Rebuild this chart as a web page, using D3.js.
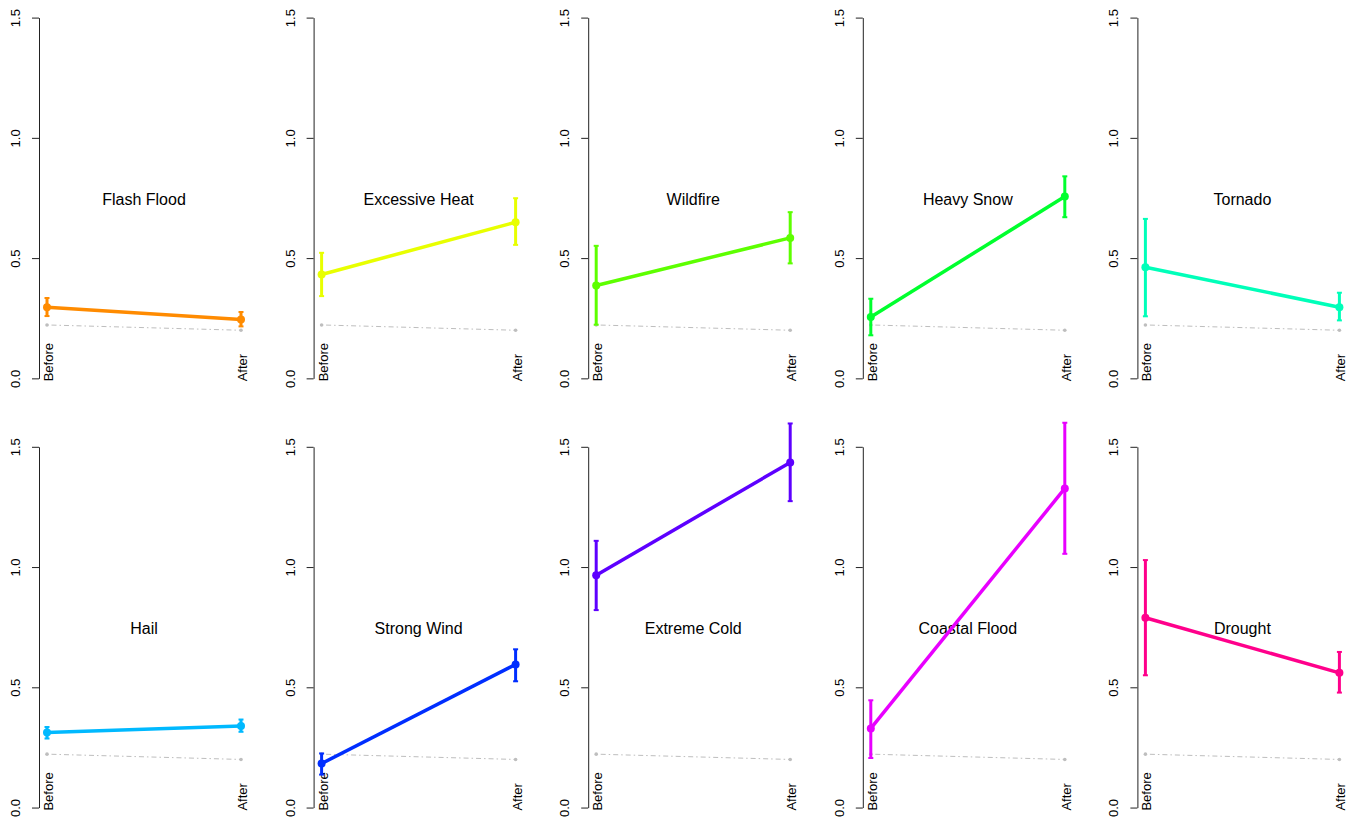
<!DOCTYPE html>
<html>
<head>
<meta charset="utf-8">
<script src="https://cdn.jsdelivr.net/npm/d3@7"></script>
<style>
  html, body { margin: 0; padding: 0; background: #fff; }
  svg { display: block; }
  text { font-family: "Liberation Sans", Arial, sans-serif; fill: #000; }
</style>
</head>
<body>
<svg id="chart" width="1357" height="818"></svg>
<script>
// ---- data ----
const hazards = ["Flash Flood", "Excessive Heat", "Wildfire", "Heavy Snow", "Tornado",
                 "Hail", "Strong Wind", "Extreme Cold", "Coastal Flood", "Drought"];
const periods = ["Before", "After"];
const beforeMean = [0.296, 0.432, 0.386, 0.255, 0.462, 0.312, 0.183, 0.966, 0.329, 0.789];
const beforeLow  = [0.259, 0.342, 0.223, 0.179, 0.258, 0.287, 0.137, 0.821, 0.206, 0.550];
const beforeHigh = [0.334, 0.522, 0.551, 0.331, 0.663, 0.335, 0.225, 1.109, 0.446, 1.029];
const afterMean  = [0.245, 0.649, 0.584, 0.756, 0.296, 0.339, 0.595, 1.435, 1.327, 0.560];
const afterLow   = [0.216, 0.555, 0.478, 0.670, 0.241, 0.315, 0.525, 1.274, 1.055, 0.478];
const afterHigh  = [0.276, 0.749, 0.691, 0.840, 0.356, 0.366, 0.658, 1.597, 1.600, 0.647];
const baseline   = [0.222, 0.200];
const colors = ["#FF8B00", "#E8FF00", "#5DFF00", "#00FF2E", "#00FFB9",
                "#00B9FF", "#002EFF", "#5D00FF", "#E800FF", "#FF008B"];
const yTicks = [0, 0.5, 1.0, 1.5];
const titleY = 0.72;

// ---- layout ----
const svg = d3.select("#chart");
const colStart = 39, colStep = 274.6;
const rowStart = 17.6, rowStep = 429.2;
const plotH = 360.75;
const plotW = 209.5;

const y = d3.scaleLinear().domain([0, 1.5]).range([plotH, 0]);
const x = d3.scalePoint().domain(periods).range([8, 202]);

hazards.forEach((name, i) => {
  const col = i % 5, row = Math.floor(i / 5);
  const g = svg.append("g")
    .attr("transform", `translate(${colStart + col * colStep},${rowStart + row * rowStep})`);

  // y axis
  const ax = g.append("g")
    .call(d3.axisLeft(y).tickValues(yTicks).tickFormat(d3.format(".1f"))
      .tickSize(7).tickSizeOuter(0));
  ax.select(".domain").attr("stroke", "#222").attr("stroke-width", 1);
  ax.selectAll(".tick line").attr("stroke", "#222");
  ax.selectAll(".tick text")
    .attr("x", null).attr("dy", null)
    .attr("transform", "translate(-19,0) rotate(-90)")
    .attr("text-anchor", "middle")
    .attr("font-size", "13px")
    .attr("font-family", "Liberation Sans, Arial, sans-serif")
    .attr("fill", "#000");

  // x labels
  g.selectAll(".xlab").data(periods).enter().append("text")
    .attr("class", "xlab")
    .attr("transform", d => `translate(${x(d) + 6},${y(0) + 3}) rotate(-90)`)
    .attr("text-anchor", "start")
    .attr("font-size", "13px")
    .text(d => d);

  // baseline gray dot-dash
  const base = periods.map((p, k) => ({p, v: baseline[k]}));
  g.append("path")
    .datum(base)
    .attr("fill", "none")
    .attr("stroke", "#BEBEBE")
    .attr("stroke-width", 1)
    .attr("stroke-dasharray", "1.5 3 5 3")
    .attr("d", d3.line().x(d => x(d.p)).y(d => y(d.v)));
  g.selectAll(".bdot").data(base).enter().append("circle")
    .attr("cx", d => x(d.p)).attr("cy", d => y(d.v)).attr("r", 1.8)
    .attr("fill", "#BEBEBE");

  // title
  g.append("text")
    .attr("x", (x("Before") + x("After")) / 2)
    .attr("y", y(titleY))
    .attr("text-anchor", "middle")
    .attr("font-size", "16px")
    .text(name);

  const pts = [
    {p: "Before", m: beforeMean[i], lo: beforeLow[i], hi: beforeHigh[i]},
    {p: "After",  m: afterMean[i],  lo: afterLow[i],  hi: afterHigh[i]}
  ];
  const c = colors[i];

  // connecting line
  g.append("path")
    .datum(pts)
    .attr("fill", "none")
    .attr("stroke", c)
    .attr("stroke-width", 3.5)
    .attr("d", d3.line().x(d => x(d.p)).y(d => y(d.m)));

  // error bars
  g.selectAll(".err").data(pts).enter().append("line")
    .attr("x1", d => x(d.p)).attr("x2", d => x(d.p))
    .attr("y1", d => y(d.lo)).attr("y2", d => y(d.hi))
    .attr("stroke", c).attr("stroke-width", 3);
  ["lo", "hi"].forEach(k => {
    g.selectAll(".cap" + k).data(pts).enter().append("line")
      .attr("x1", d => x(d.p) - 2.5).attr("x2", d => x(d.p) + 2.5)
      .attr("y1", d => y(d[k])).attr("y2", d => y(d[k]))
      .attr("stroke", c).attr("stroke-width", 2);
  });

  // points
  g.selectAll(".pt").data(pts).enter().append("circle")
    .attr("cx", d => x(d.p)).attr("cy", d => y(d.m)).attr("r", 4)
    .attr("fill", c);
});
</script>
</body>
</html>
